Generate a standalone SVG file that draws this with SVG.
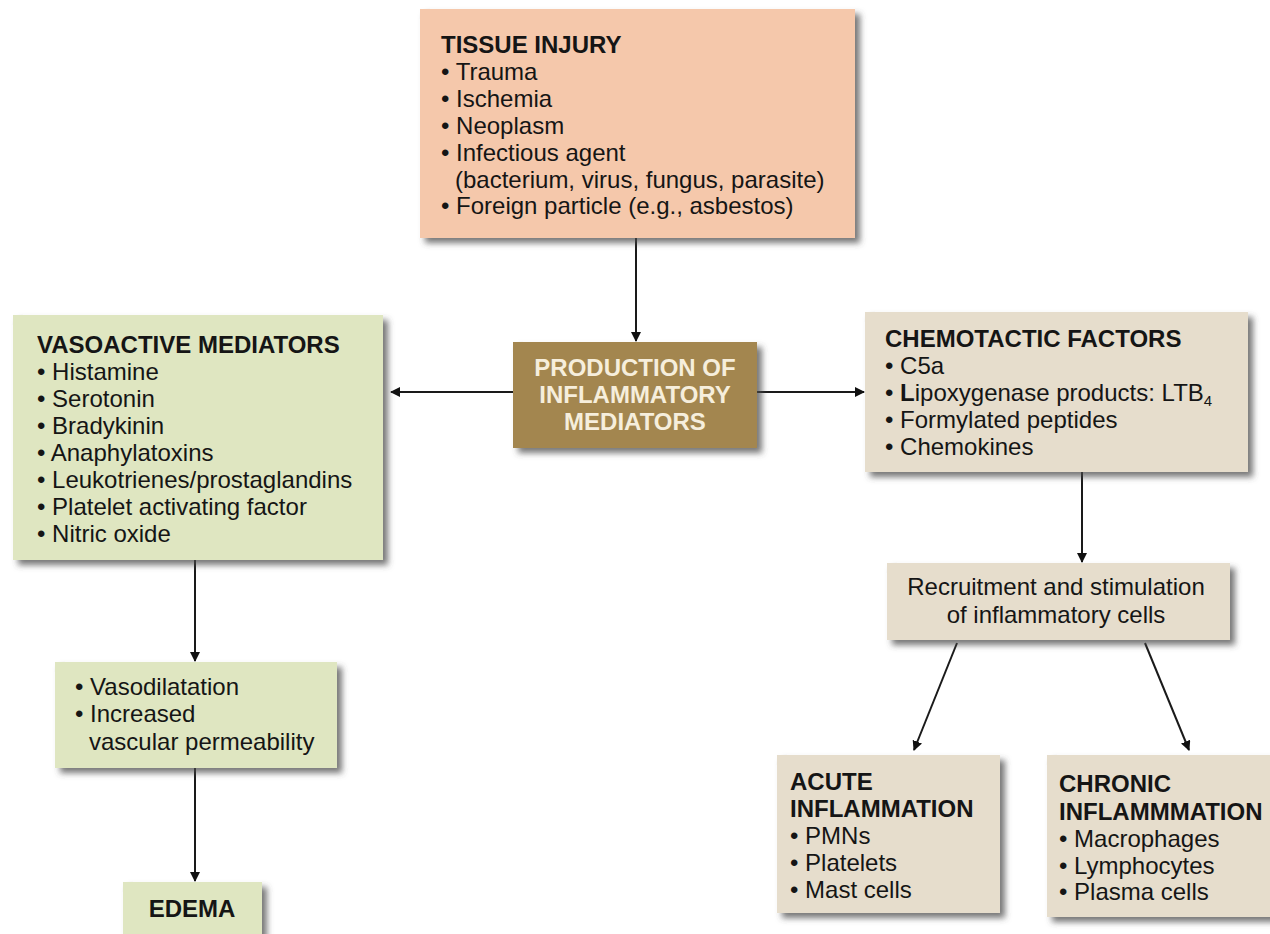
<svg xmlns="http://www.w3.org/2000/svg" width="1270" height="934" viewBox="0 0 1270 934">
<defs>
<filter id="sh" x="-10%" y="-10%" width="130%" height="140%">
<feDropShadow dx="5" dy="5" stdDeviation="3" flood-color="#4a4a4a" flood-opacity="0.75"/>
</filter>
<marker id="ah" viewBox="0 0 10 10" refX="9" refY="5" markerWidth="10" markerHeight="10" markerUnits="userSpaceOnUse" orient="auto">
<path d="M0,0 L10,5 L0,10 Z" fill="#111"/>
</marker>
</defs>
<style>
text{font-family:"Liberation Sans",Arial,sans-serif;font-size:24px;fill:#151515}
.t{font-weight:bold}
.w{font-weight:bold;fill:#f6eedc}
.c{text-anchor:middle}
.box{filter:url(#sh)}
.peach{fill:#f5c8ab}
.green{fill:#dfe6c1}
.brown{fill:#a3864f}
.beige{fill:#e6ddcc}
.con line{stroke:#1a1a1a;stroke-width:2;marker-end:url(#ah)}
</style>
<rect width="1270" height="934" fill="#ffffff"/>
<g class="con">
<line x1="636" y1="238" x2="636" y2="341"/>
<line x1="513" y1="392" x2="391" y2="392"/>
<line x1="757" y1="392" x2="864" y2="392"/>
<line x1="195" y1="560" x2="195" y2="661"/>
<line x1="195" y1="768" x2="195" y2="881"/>
<line x1="1082" y1="472" x2="1082" y2="562"/>
<line x1="957" y1="643" x2="914" y2="750"/>
<line x1="1145" y1="643" x2="1189" y2="750"/>
</g>
<g id="tissue-injury">
<rect class="box peach" x="420" y="9" width="435" height="229"/>
<text class="t" x="441" y="53">TISSUE INJURY</text>
<text x="441" y="80">• Trauma</text>
<text x="441" y="107">• Ischemia</text>
<text x="441" y="134">• Neoplasm</text>
<text x="441" y="161">• Infectious agent</text>
<text x="455" y="188">(bacterium, virus, fungus, parasite)</text>
<text x="441" y="214">• Foreign particle (e.g., asbestos)</text>
</g>
<g id="production">
<rect class="box brown" x="513" y="342" width="244" height="106"/>
<text class="w c" x="635" y="376">PRODUCTION OF</text>
<text class="w c" x="635" y="403">INFLAMMATORY</text>
<text class="w c" x="635" y="430">MEDIATORS</text>
</g>
<g id="vasoactive">
<rect class="box green" x="13" y="315" width="370" height="245"/>
<text class="t" x="37" y="353">VASOACTIVE MEDIATORS</text>
<text x="37" y="380">• Histamine</text>
<text x="37" y="407">• Serotonin</text>
<text x="37" y="434">• Bradykinin</text>
<text x="37" y="461">• Anaphylatoxins</text>
<text x="37" y="488">• Leukotrienes/prostaglandins</text>
<text x="37" y="515">• Platelet activating factor</text>
<text x="37" y="542">• Nitric oxide</text>
</g>
<g id="chemotactic">
<rect class="box beige" x="865" y="312" width="383" height="160"/>
<text class="t" x="885" y="347">CHEMOTACTIC FACTORS</text>
<text x="885" y="374">• C5a</text>
<text x="885" y="401">• <tspan font-weight="bold">L</tspan>ipoxygenase products: LTB<tspan font-size="15" dy="5">4</tspan></text>
<text x="885" y="428">• Formylated peptides</text>
<text x="885" y="455">• Chemokines</text>
</g>
<g id="vascular-effects">
<rect class="box green" x="55" y="662" width="282" height="106"/>
<text x="75" y="695">• Vasodilatation</text>
<text x="75" y="722">• Increased</text>
<text x="89" y="750">vascular permeability</text>
</g>
<g id="edema">
<rect class="box green" x="123" y="882" width="139" height="70"/>
<text class="t c" x="192" y="917">EDEMA</text>
</g>
<g id="recruitment">
<rect class="box beige" x="887" y="563" width="343" height="77"/>
<text class="c" x="1056" y="595">Recruitment and stimulation</text>
<text class="c" x="1056" y="623">of inflammatory cells</text>
</g>
<g id="acute">
<rect class="box beige" x="777" y="755" width="223" height="158"/>
<text class="t" x="790" y="790">ACUTE</text>
<text class="t" x="790" y="817">INFLAMMATION</text>
<text x="790" y="844">• PMNs</text>
<text x="790" y="871">• Platelets</text>
<text x="790" y="898">• Mast cells</text>
</g>
<g id="chronic">
<rect class="box beige" x="1047" y="755" width="230" height="162"/>
<text class="t" x="1059" y="792">CHRONIC</text>
<text class="t" x="1059" y="820">INFLAMMMATION</text>
<text x="1059" y="847">• Macrophages</text>
<text x="1059" y="874">• Lymphocytes</text>
<text x="1059" y="900">• Plasma cells</text>
</g>
</svg>
